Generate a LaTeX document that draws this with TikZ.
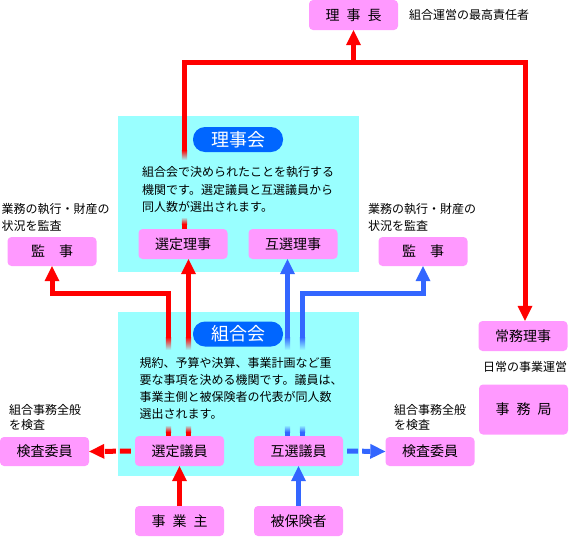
\documentclass[tikz,border=0pt]{standalone}
\usepackage{fontspec}
\newfontfamily\jp{Noto Sans CJK JP}
\usetikzlibrary{positioning, arrows.meta}
\definecolor{boxpink}{HTML}{FF99FF}
\definecolor{panelcyan}{HTML}{99FFFF}
\definecolor{linered}{HTML}{FF0000}
\definecolor{lineblue}{HTML}{3366FF}
\definecolor{pillblue}{HTML}{0066FF}
\tikzset{
    pinkbox/.style={fill=boxpink, rounded corners=4pt, minimum width=89pt, minimum height=30pt, inner sep=0pt, font=\jp\fontsize{14}{14}\selectfont},
    pill/.style={fill=pillblue, rounded corners=12pt, minimum width=90pt, minimum height=25pt, inner sep=0pt, text=white, font=\jp\fontsize{18}{18}\selectfont},
    bodytext/.style={anchor=north west, align=left, inner sep=0pt, font=\jp\fontsize{12}{17.5}\selectfont},
    note/.style={anchor=west, align=left, inner sep=0pt, font=\jp\fontsize{12}{16.5}\selectfont},
    redline/.style={draw=linered, line width=5pt, -{Triangle[width=15pt, length=15pt, line width=0pt]}},
    blueline/.style={draw=lineblue, line width=5pt, -{Triangle[width=15pt, length=15pt, line width=0pt]}},
    reddash/.style={redline, dash pattern=on 11pt off 4pt, dash phase=11pt},
    bluedash/.style={blueline, dash pattern=on 11pt off 4pt, dash phase=11pt}
}
% line fades out into the panel and comes back
\newcommand{\fadecut}[6]{%
  \shade[top color=#1, bottom color=panelcyan] (#2-2.6,#3) rectangle (#2+2.6,#4);
  \fill[panelcyan] (#2-3,#4) rectangle (#2+3,#5);
  \shade[top color=panelcyan, bottom color=#1] (#2-2.6,#5) rectangle (#2+2.6,#6);}

\begin{document}
\begin{tikzpicture}[x=1pt, y=-1pt]
\useasboundingbox (0,0) rectangle (570,536);

% Panels
\fill[panelcyan] (118,116) rectangle (359,272);
\fill[panelcyan] (118,312) rectangle (359,476);

% Boxes
\node[pinkbox] (rijicho) at (353.5,15) {理\hspace{0.5em}事\hspace{0.5em}長};
\node[pinkbox] (sr) at (183,244) {選定理事};
\node[pinkbox] (gr) at (293,244) {互選理事};
\node[pinkbox, minimum height=29pt] (kanji1) at (52,251.5) {監\hspace{1em}事};
\node[pinkbox, minimum height=29pt] (kanji2) at (423,251.5) {監\hspace{1em}事};
\node[pinkbox] (jomu) at (523,336) {常務理事};
\node[pinkbox, minimum height=50pt] (jimu) at (523.5,409.5) {事\hspace{0.5em}務\hspace{0.5em}局};
\node[pinkbox] (sg) at (179.5,451) {選定議員};
\node[pinkbox] (gg) at (298.5,451) {互選議員};
\node[pinkbox, minimum height=29pt] (kensa1) at (44.5,451.5) {検査委員};
\node[pinkbox, minimum height=29pt] (kensa2) at (430,451.5) {検査委員};
\node[pinkbox] (jigyo) at (179.5,521) {事\hspace{0.5em}業\hspace{0.5em}主};
\node[pinkbox] (hiho) at (298.5,521) {被保険者};

\coordinate (topline) at (525,62.5);
\coordinate (midline) at (0,293);

% Red connectors
\draw[redline] ([xshift=1.5pt]sr.north) |- (rijicho.south |- topline) -- (rijicho.south);
\draw[redline] ([xshift=1.5pt]sr.north) |- (topline) -- (jomu.north -| topline);
\draw[redline] ([xshift=-11pt]sg.north) -- ([xshift=-11pt]sg.north |- midline) -| (kanji1.south);
\draw[redline] ([xshift=9pt]sg.north) -- ([xshift=9pt]sg.north |- sr.south);
\draw[reddash] (sg.west) -- (kensa1.east);
\draw[redline] (jigyo.north) -- (sg.south);

% Blue connectors
\draw[blueline] ([xshift=-11pt]gg.north) -- ([xshift=-11pt]gg.north |- gr.south);
\draw[blueline] ([xshift=4pt]gg.north) -- ([xshift=4pt]gg.north |- midline) -| (kanji2.south);
\draw[bluedash] (gg.east) -- (kensa2.west);
\draw[blueline] (hiho.north) -- (gg.south);

% Fades inside the panels
\fadecut{linered}{184.5}{150}{160}{217}{224}
\fadecut{linered}{168.5}{337}{350}{425}{432}
\fadecut{linered}{188.5}{337}{350}{425}{432}
\fadecut{lineblue}{287.5}{337}{350}{425}{432}
\fadecut{lineblue}{302.5}{337}{350}{425}{432}

% Panel titles and texts
\node[pill] (rijikai) at (238,139.5) {理事会};
\node[pill] (kumiai) at (238,334) {組合会};
\node[bodytext] (rijikaitext) at (142,166.3) {組合会で決められたことを執行する\\機関です。選定議員と互選議員から\\同人数が選出されます。};
\node[bodytext, font=\jp\fontsize{12}{17}\selectfont] (kumiaitext) at (139.5,357.6) {規約、予算や決算、事業計画など重\\要な事項を決める機関です。議員は、\\事業主側と被保険者の代表が同人数\\選出されます。};

% Notes
\node[note] (rijichonote) at (409,15) {組合運営の最高責任者};
\node[note, anchor=north west] (kanjinote1) at (1.5,203.6) {業務の執行・財産の\\状況を監査};
\node[note, anchor=north west] (kanjinote2) at (368,203.6) {業務の執行・財産の\\状況を監査};
\node[note, anchor=center] (jomunote) at (525,367) {日常の事業運営};
\node[note, anchor=north west, font=\jp\fontsize{12}{14.5}\selectfont] (kensanote1) at (9,404.6) {組合事務全般\\を検査};
\node[note, anchor=north west, font=\jp\fontsize{12}{14.5}\selectfont] (kensanote2) at (394,404.6) {組合事務全般\\を検査};

\end{tikzpicture}
\end{document}
